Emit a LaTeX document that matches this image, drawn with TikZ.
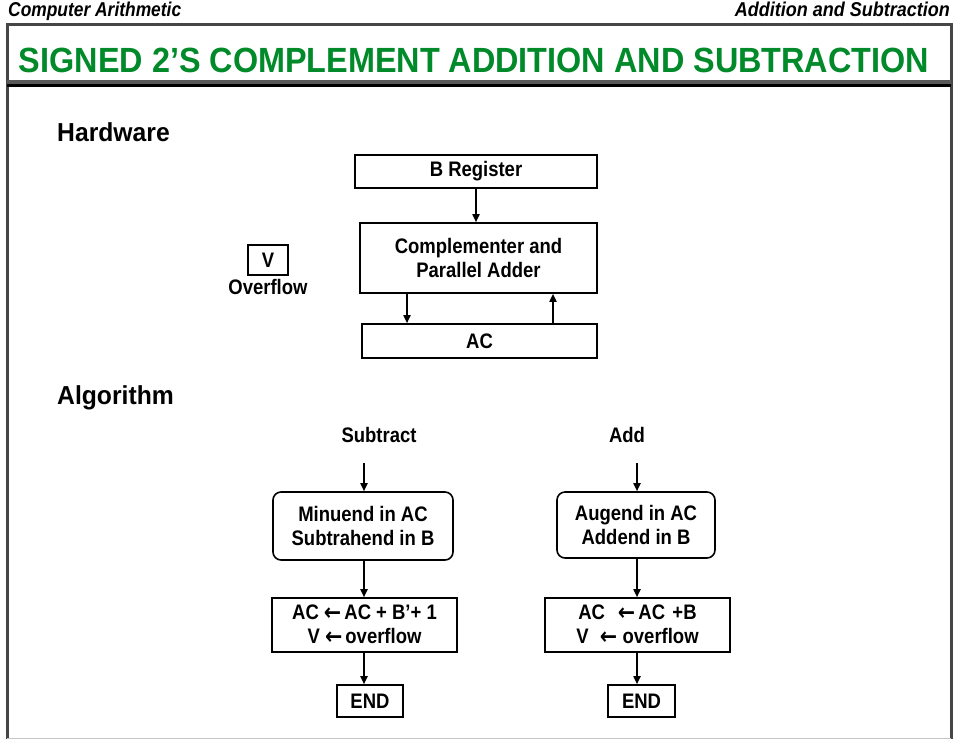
\documentclass[tikz,border=0pt]{standalone}
\usepackage{graphicx}
\usepackage{fontspec}
\setmainfont{Liberation Sans}
\newfontfamily\arrowfont{DejaVu Sans}
\usetikzlibrary{arrows.meta}

\definecolor{titlegreen}{RGB}{0,138,42}
\definecolor{framegray}{RGB}{70,70,70}

% narrow bold lettering used throughout
\newcommand{\nar}[1]{\scalebox{0.88}[1]{#1}}
\newcommand{\arr}{{\arrowfont\bfseries\raisebox{-0.06em}{\scalebox{1.12}{←}}}}

\tikzset{
  box/.style={draw, line width=1.6pt, inner sep=0pt, align=center,
              font=\fontsize{21}{24}\selectfont\bfseries},
  rbox/.style={box, rounded corners=8pt},
  lbl/.style={inner sep=0pt, font=\fontsize{21}{24}\selectfont\bfseries},
  head/.style={inner sep=0pt, font=\fontsize{26}{28}\selectfont\bfseries},
  flow/.style={line width=1.7pt, -{Triangle[length=8pt,width=7pt]}}
}

\begin{document}
\begin{tikzpicture}[x=1pt,y=-1pt]
  \useasboundingbox[fill=white] (0,0) rectangle (955,740);

  % running heads
  \node[inner sep=0pt, anchor=base west, font=\fontsize{20}{22}\selectfont\bfseries\itshape]
    (runl) at (8,16) {\scalebox{0.87}[1]{Computer Arithmetic}};
  \node[inner sep=0pt, anchor=base east, font=\fontsize{20}{22}\selectfont\bfseries\itshape]
    (runr) at (950,16) {\scalebox{0.9}[1]{Addition and Subtraction}};

  % slide frame and title bar
  \draw[framegray, line width=3pt] (7,739) -- (7,24) -- (951,24) -- (951,739);
  \draw[gray!45, line width=1pt] (7,738.5) -- (951,738.5);
  \draw[gray!70!black, line width=3.5pt] (7,82) -- (951,82);
  \draw[black, line width=2.5pt] (7,85.5) -- (951,85.5);
  \node[inner sep=0pt, anchor=base, text=titlegreen, font=\fontsize{35}{38}\selectfont\bfseries]
    (title) at (474,72) {\scalebox{0.925}[1]{SIGNED 2’S COMPLEMENT ADDITION AND SUBTRACTION}};

  % hardware
  \node[head, anchor=west] (hw) at (57,132) {\scalebox{0.95}[1]{Hardware}};
  \node[box, minimum width=242pt, minimum height=33pt] (breg) at (476,171.5) {\nar{B Register}};
  \node[box, minimum width=237pt, minimum height=70pt] (comp) at (478.5,258)
    {\nar{Complementer and}\\\nar{Parallel Adder}};
  \node[box, minimum width=235pt, minimum height=34pt] (ac) at (479.5,341) {\nar{AC}};
  \node[box, minimum width=40pt, minimum height=30pt] (vreg) at (268,260) {\nar{V}};
  \node[lbl, anchor=north] (ovf) at ([yshift=-3pt]vreg.south) {\nar{Overflow}};

  \coordinate (dn) at (407,0);
  \coordinate (up) at (553,0);
  \draw[flow] (breg.south) -- (breg.south |- comp.north);
  \draw[flow] (comp.south -| dn) -- (ac.north -| dn);
  \draw[flow] (ac.north -| up) -- (comp.south -| up);

  % algorithm
  \node[head, anchor=west] (alg) at (57,398) {\scalebox{0.95}[1]{Algorithm}};

  % subtract branch
  \node[lbl] (sub) at (379,435) {\nar{Subtract}};
  \coordinate (subin) at (364,463);
  \node[rbox, minimum width=180pt, minimum height=68pt] (minu) at (363,526)
    {\nar{Minuend in AC}\\\nar{Subtrahend in B}};
  \node[box, minimum width=185pt, minimum height=54pt] (subop) at (364.5,625)
    {\nar{AC \arr\,AC + B’+ 1}\\\nar{V \arr\,overflow}};
  \node[box, minimum width=66pt, minimum height=32pt] (subend) at (370,701) {\nar{END}};
  \draw[flow] (subin) -- (subin |- minu.north);
  \draw[flow] (minu.south -| subin) -- (subop.north -| subin);
  \draw[flow] (subop.south -| subin) -- (subend.north -| subin);

  % add branch
  \node[lbl] (add) at (627,435) {\nar{Add}};
  \coordinate (addin) at (637,463);
  \node[rbox, minimum width=158pt, minimum height=66pt] (aug) at (636,525)
    {\nar{Augend in AC}\\\nar{Addend in B}};
  \node[box, minimum width=185pt, minimum height=54pt] (addop) at (637.5,625)
    {\nar{AC\hspace{0.7em}\arr\,AC\hspace{0.4em}+B}\\\nar{V\hspace{0.6em}\arr\hspace{0.3em}overflow}};
  \node[box, minimum width=67pt, minimum height=32pt] (addend) at (641.5,701) {\nar{END}};
  \draw[flow] (addin) -- (addin |- aug.north);
  \draw[flow] (aug.south -| addin) -- (addop.north -| addin);
  \draw[flow] (addop.south -| addin) -- (addend.north -| addin);
\end{tikzpicture}
\end{document}
